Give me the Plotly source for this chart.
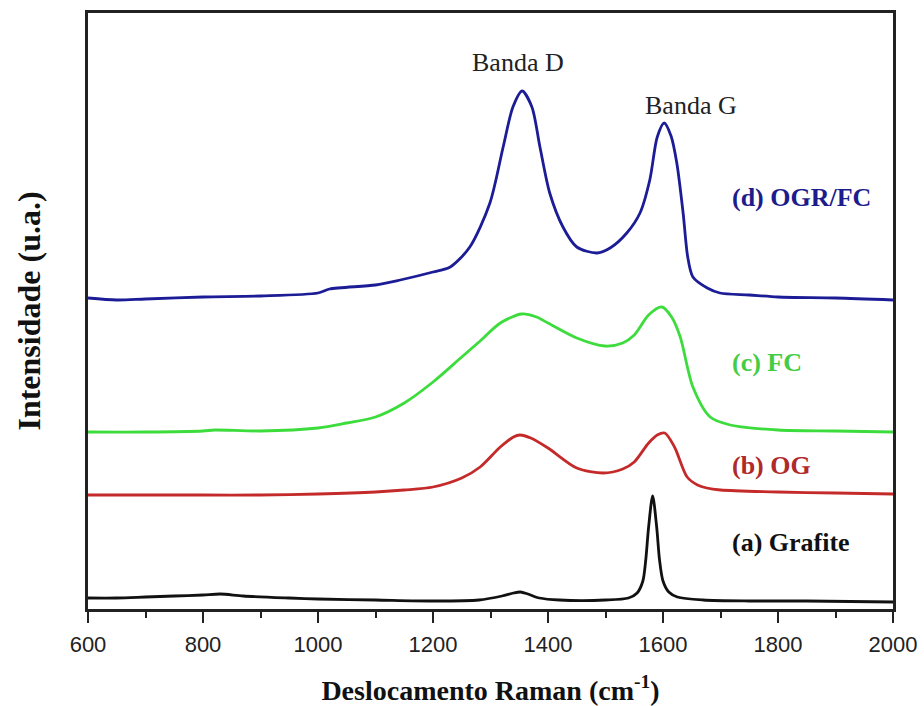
import plotly.graph_objects as go

# Raman shift (cm^-1) and intensity (arbitrary units, curves stacked with offsets)
grafite_x = [600, 650, 700, 750, 800, 830, 870, 950, 1000, 1100, 1200, 1280, 1320, 1340, 1352,
             1365, 1385, 1420, 1500, 1540, 1555, 1565, 1570, 1575, 1582, 1589, 1594, 1600, 1610,
             1625, 1670, 1750, 1850, 2000]
grafite_y = [11, 11, 12, 13, 14, 15, 13, 11, 10, 9, 8, 9, 13, 16, 17,
             15, 11, 9, 9, 11, 16, 28, 49, 82, 113, 82, 49, 28, 17,
             12, 9, 8, 8, 7]

og_x = [600, 700, 800, 900, 1000, 1100, 1150, 1200, 1250, 1282, 1317, 1340, 1351, 1370, 1400,
        1450, 1496, 1530, 1550, 1575, 1590, 1603, 1620, 1642, 1660, 1676, 1700, 1800, 1900, 2000]
og_y = [114, 114, 114, 114, 115, 117, 119, 122, 131, 142, 162, 172, 174, 171, 161,
        141, 136, 140, 147, 166, 174, 176, 162, 132, 124, 121, 119, 117, 116, 115]

fc_x = [600, 700, 800, 820, 900, 1000, 1050, 1100, 1150, 1200, 1250, 1282, 1317, 1354, 1380,
        1400, 1450, 1499, 1530, 1550, 1575, 1598, 1615, 1630, 1652, 1682, 1717, 1800, 1900, 2000]
fc_y = [177, 177, 178, 179, 178, 181, 186, 192, 206, 227, 252, 268, 286, 295, 292,
        286, 271, 263, 266, 274, 294, 302, 292, 272, 222, 192, 184, 179, 178, 177]

ogr_fc_x = [600, 650, 700, 800, 900, 1000, 1020, 1100, 1143, 1200, 1230, 1264, 1299, 1322, 1339,
            1355, 1372, 1386, 1403, 1426, 1450, 1485, 1508, 1537, 1560, 1577, 1590, 1602, 1614,
            1624, 1635, 1643, 1652, 1677, 1699, 1750, 1800, 1900, 2000]
ogr_fc_y = [311, 309, 310, 312, 313, 316, 320, 324, 329, 337, 342, 362, 406, 462, 502,
            518, 502, 462, 416, 382, 362, 356, 361, 376, 396, 429, 472, 486, 473,
            446, 396, 352, 332, 321, 316, 314, 312, 311, 309]

series = [
    ("(a) Grafite", grafite_x, grafite_y, "#111111"),
    ("(b) OG", og_x, og_y, "#c42a2a"),
    ("(c) FC", fc_x, fc_y, "#3cdc3c"),
    ("(d) OGR/FC", ogr_fc_x, ogr_fc_y, "#1c1c96"),
]

# label text, left edge (cm^-1), intensity, colour
labels = [
    ("(a) Grafite", 1716, 67, "#111111"),
    ("(b) OG", 1716, 144, "#b02a2a"),
    ("(c) FC", 1716, 247, "#44cc44"),
    ("(d) OGR/FC", 1716, 412, "#1c1c8c"),
]
bands = [("Banda D", 1347, 547), ("Banda G", 1649, 504)]

serif = "Liberation Serif, Times New Roman, serif"
sans = "Liberation Sans, Arial, sans-serif"

fig = go.Figure()
for name, xs, ys, color in series:
    fig.add_trace(go.Scatter(x=xs, y=ys, mode="lines", name=name,
                             line=dict(color=color, width=2.8, shape="spline", smoothing=0.8)))

for text, x, y, color in labels:
    fig.add_annotation(x=x, y=y, text="<b>" + text + "</b>", showarrow=False, xanchor="left",
                       font=dict(family=serif, size=26, color=color))
for text, x, y in bands:
    fig.add_annotation(x=x, y=y, text=text, showarrow=False,
                       font=dict(family=serif, size=26, color="#222222"))

fig.update_layout(
    width=924, height=706,
    margin=dict(l=88, r=31, t=13, b=97, autoexpand=False),
    paper_bgcolor="white", plot_bgcolor="white",
    showlegend=False,
    xaxis=dict(
        range=[600, 2000], tickvals=[600, 800, 1000, 1200, 1400, 1600, 1800, 2000],
        ticks="outside", ticklen=11, tickwidth=2, tickcolor="#222222",
        minor=dict(tickvals=[700, 900, 1100, 1300, 1500, 1700, 1900], ticks="outside",
                   ticklen=6, tickwidth=2, tickcolor="#222222"),
        showline=True, linecolor="#222222", linewidth=2.5, mirror=True,
        showgrid=False, zeroline=False, automargin=False, ticklabelstandoff=3,
        tickfont=dict(family=sans, size=22, color="#222222"),
        title=dict(text="<b>Deslocamento Raman (cm<sup>-1</sup>)</b>", standoff=26,
                   font=dict(family=serif, size=28, color="#111111")),
    ),
    yaxis=dict(
        range=[0, 596], showticklabels=False, ticks="",
        showline=True, linecolor="#222222", linewidth=2.5, mirror=True,
        showgrid=False, zeroline=False, automargin=False,
        title=dict(text="<b>Intensidade (u.a.)</b>", standoff=36,
                   font=dict(family=serif, size=32, color="#111111")),
    ),
)

fig.write_html("out.html")
